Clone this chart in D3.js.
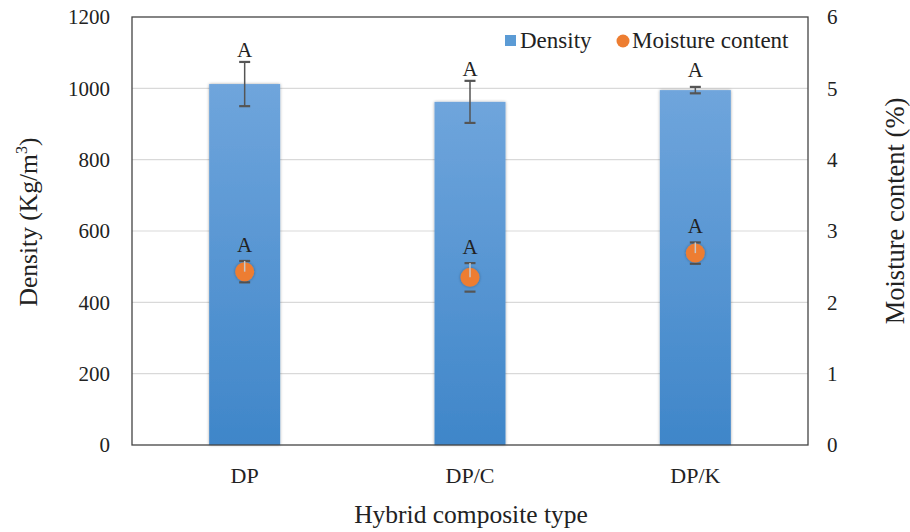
<!DOCTYPE html>
<html>
<head>
<meta charset="utf-8">
<script src="https://cdn.jsdelivr.net/npm/d3@7"></script>
<style>
  body { margin: 0; background: #fff; }
  svg text { font-family: "Liberation Serif", "Times New Roman", Times, "DejaVu Serif", serif; fill: #222; }
</style>
</head>
<body>
<div id="chart"></div>
<script>
const categories = ['DP', 'DP/C', 'DP/K'];
const density = [1012, 962, 995];
const densityErr = [62, 59, 9];
const moisture = [2.43, 2.35, 2.69];
const moistureErr = [0.15, 0.2, 0.15];
const densityLetters = ['A', 'A', 'A'];
const moistureLetters = ['A', 'A', 'A'];
const densityTicks = [0, 200, 400, 600, 800, 1000, 1200];
const moistureTicks = [0, 1, 2, 3, 4, 5, 6];

const serif = '"Liberation Serif", "Times New Roman", Times, "DejaVu Serif", serif';
const margin = { left: 132, right: 102, top: 17, bottom: 87 };
const width = 910 - margin.left - margin.right,
  height = 532 - margin.top - margin.bottom;

const svg = d3
  .select('#chart')
  .append('svg')
  .attr('width', 910)
  .attr('height', 532)
  .attr('font-family', serif);

const defs = svg.append('defs');
const grad = defs
  .append('linearGradient')
  .attr('id', 'barGrad')
  .attr('x1', 0).attr('y1', 0).attr('x2', 0).attr('y2', 1);
grad.append('stop').attr('offset', '0%').attr('stop-color', '#6fa5dc');
grad.append('stop').attr('offset', '100%').attr('stop-color', '#3f86c9');

const shadow = defs.append('filter').attr('id', 'shadow')
  .attr('x', '-20%').attr('y', '-20%').attr('width', '140%').attr('height', '140%');
shadow.append('feDropShadow')
  .attr('dx', 0).attr('dy', 0).attr('stdDeviation', 1.5)
  .attr('flood-color', '#000').attr('flood-opacity', 0.35);

const g = svg.append('g').attr('transform', `translate(${margin.left},${margin.top})`);

// Scales
const xScale = d3.scaleBand().domain(categories).range([0, width]);
const yLeft = d3.scaleLinear().domain([0, 1200]).range([height, 0]);
const yRight = d3.scaleLinear().domain([0, 6]).range([height, 0]);

// Gridlines
g.append('g')
  .selectAll('line')
  .data(densityTicks.slice(1, -1))
  .enter()
  .append('line')
  .attr('x1', 0)
  .attr('x2', width)
  .attr('y1', d => yLeft(d))
  .attr('y2', d => yLeft(d))
  .attr('stroke', '#d9d9d9')
  .attr('stroke-width', 1.2);

// Bars
const barW = xScale.bandwidth() * 0.315;
g.append('g')
  .selectAll('rect')
  .data(categories)
  .enter()
  .append('rect')
  .attr('x', d => xScale(d) + xScale.bandwidth() / 2 - barW / 2)
  .attr('y', (d, i) => yLeft(density[i]))
  .attr('width', barW)
  .attr('height', (d, i) => height - yLeft(density[i]))
  .attr('fill', 'url(#barGrad)')
  .attr('filter', 'url(#shadow)');

// Frame
g.append('rect')
  .attr('x', 0).attr('y', 0)
  .attr('width', width).attr('height', height)
  .attr('fill', 'none')
  .attr('stroke', '#444')
  .attr('stroke-width', 1.3);

const cx = d => xScale(d) + xScale.bandwidth() / 2;
const capW = 11;

// Density error bars
const dErr = g.append('g').attr('stroke', '#555').attr('stroke-width', 1.5);
categories.forEach((c, i) => {
  const t = yLeft(density[i] + densityErr[i]);
  const b = yLeft(density[i] - densityErr[i]);
  dErr.append('line').attr('x1', cx(c)).attr('x2', cx(c)).attr('y1', t).attr('y2', b);
  dErr.append('line').attr('x1', cx(c) - capW / 2).attr('x2', cx(c) + capW / 2).attr('y1', t).attr('y2', t).attr('stroke-width', 2.2);
  dErr.append('line').attr('x1', cx(c) - capW / 2).attr('x2', cx(c) + capW / 2).attr('y1', b).attr('y2', b).attr('stroke-width', 2.2);
});

// Moisture error caps (under marker)
const mErr = g.append('g').attr('stroke', '#555').attr('stroke-width', 2.2);
categories.forEach((c, i) => {
  const t = yRight(moisture[i] + moistureErr[i]);
  const b = yRight(moisture[i] - moistureErr[i]);
  mErr.append('line').attr('x1', cx(c) - capW / 2).attr('x2', cx(c) + capW / 2).attr('y1', t).attr('y2', t);
  mErr.append('line').attr('x1', cx(c) - capW / 2).attr('x2', cx(c) + capW / 2).attr('y1', b).attr('y2', b);
});

// Moisture points
g.append('g')
  .selectAll('circle')
  .data(categories)
  .enter()
  .append('circle')
  .attr('cx', d => cx(d))
  .attr('cy', (d, i) => yRight(moisture[i]))
  .attr('r', 9.5)
  .attr('fill', '#ed7d31')
  .attr('filter', 'url(#shadow)');

// Moisture error stem over the marker
g.append('g')
  .selectAll('line')
  .data(categories)
  .enter()
  .append('line')
  .attr('x1', d => cx(d))
  .attr('x2', d => cx(d))
  .attr('y1', (d, i) => yRight(moisture[i] + moistureErr[i]))
  .attr('y2', (d, i) => yRight(moisture[i]))
  .attr('stroke', '#c8c8c8')
  .attr('stroke-width', 1.5);

// Significance letters
g.append('g')
  .selectAll('text')
  .data(categories)
  .enter()
  .append('text')
  .attr('x', d => cx(d))
  .attr('y', (d, i) => Math.min(yLeft(density[i] + densityErr[i]) - 5, yLeft(density[i]) - 13))
  .attr('text-anchor', 'middle')
  .style('font-size', '21px')
  .text((d, i) => densityLetters[i]);

g.append('g')
  .selectAll('text')
  .data(categories)
  .enter()
  .append('text')
  .attr('x', d => cx(d))
  .attr('y', (d, i) => yRight(moisture[i] + moistureErr[i]) - 9)
  .attr('text-anchor', 'middle')
  .style('font-size', '21px')
  .text((d, i) => moistureLetters[i]);

// Axes
const leftAxis = g.append('g')
  .call(d3.axisLeft(yLeft).tickValues(densityTicks).tickFormat(d3.format('d')).tickSize(0).tickPadding(22));
const rightAxis = g.append('g')
  .attr('transform', `translate(${width},0)`)
  .call(d3.axisRight(yRight).tickValues(moistureTicks).tickFormat(d3.format('d')).tickSize(0).tickPadding(19));
const bottomAxis = g.append('g')
  .attr('transform', `translate(0,${height})`)
  .call(d3.axisBottom(xScale).tickSize(0).tickPadding(22));

[leftAxis, rightAxis, bottomAxis].forEach(ax => {
  ax.attr('font-family', serif);
  ax.select('.domain').remove();
  ax.selectAll('text').style('fill', '#222');
});
leftAxis.selectAll('text').style('font-size', '21px');
rightAxis.selectAll('text').style('font-size', '21px');
bottomAxis.selectAll('text').style('font-size', '22px');

// Axis titles
const leftTitle = svg.append('text')
  .attr('transform', `translate(37, 222) rotate(-90)`)
  .attr('text-anchor', 'middle')
  .style('font-size', '25.5px');
leftTitle.append('tspan').text('Density (Kg/m');
leftTitle.append('tspan').attr('dy', -10).style('font-size', '16px').text('3');
leftTitle.append('tspan').attr('dy', 10).text(')');

svg.append('text')
  .attr('transform', `translate(904, 211) rotate(-90)`)
  .attr('text-anchor', 'middle')
  .style('font-size', '26.5px')
  .text('Moisture content (%)');

svg.append('text')
  .attr('x', 471)
  .attr('y', 523)
  .attr('text-anchor', 'middle')
  .style('font-size', '25.5px')
  .text('Hybrid composite type');

// Legend
const legend = svg.append('g').attr('class', 'legend');
legend.append('rect')
  .attr('x', 505).attr('y', 35)
  .attr('width', 11).attr('height', 11)
  .attr('fill', '#5b9bd5');
legend.append('text')
  .attr('x', 520).attr('y', 48)
  .style('font-size', '23px')
  .text('Density');
legend.append('circle')
  .attr('cx', 623).attr('cy', 41)
  .attr('r', 6.5)
  .attr('fill', '#ed7d31');
legend.append('text')
  .attr('x', 632).attr('y', 48)
  .style('font-size', '23px')
  .text('Moisture content');
</script>
</body>
</html>
